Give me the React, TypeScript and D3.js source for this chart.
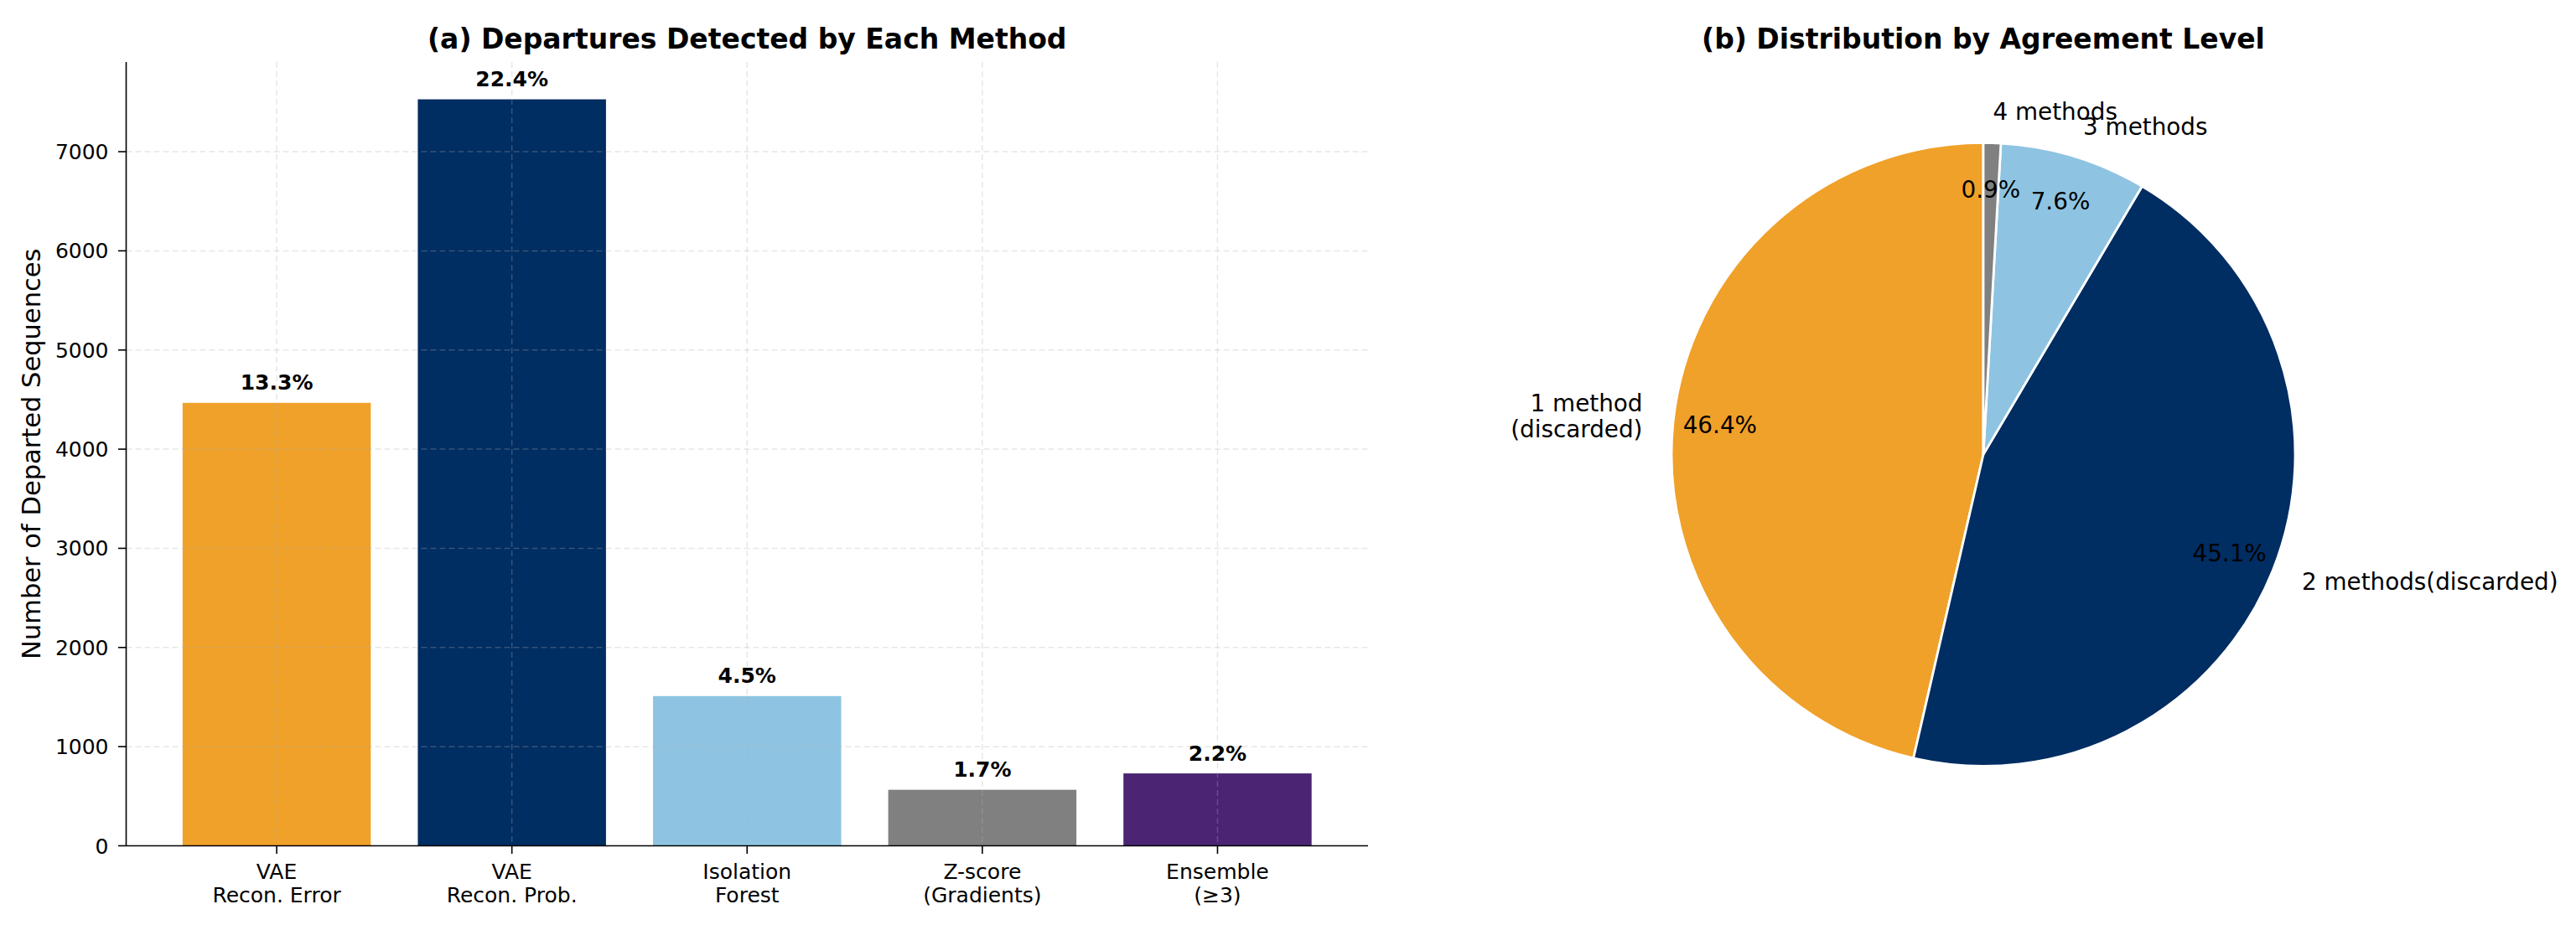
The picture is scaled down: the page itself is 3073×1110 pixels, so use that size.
import { useRef, useEffect } from 'react'
import * as d3 from 'd3'

const FONT = "'DejaVu Sans', sans-serif"

// (a) detections per method
const methods = ['VAE\nRecon. Error', 'VAE\nRecon. Prob.', 'Isolation\nForest', 'Z-score\n(Gradients)', 'Ensemble\n(≥3)']
const detectedCounts = [4467, 7528, 1510, 565, 730]
const detectedPct = ['13.3%', '22.4%', '4.5%', '1.7%', '2.2%']
const barColors = ['#F0A129', '#002D62', '#8EC4E2', '#808080', '#4B2473']
const yTicks = [0, 1000, 2000, 3000, 4000, 5000, 6000, 7000]

// (b) agreement levels
const agreementLabels = ['1 method\n(discarded)', '2 methods(discarded)', '3 methods', '4 methods']
const agreementCounts = [3985, 3873, 653, 77]
const pieColors = ['#F0A129', '#002D62', '#8EC4E2', '#808080']

export default function App() {
  const svgRef = useRef<SVGSVGElement>(null)

  useEffect(() => {
    const svg = d3.select(svgRef.current)
    svg.selectAll('*').remove()
    const W = 3073
    const H = 1110

    // ---------- panel (a) ----------
    const left = 150.5
    const right = 1632
    const top = 74
    const bottom = 1009.5
    const x = d3.scaleLinear().domain([-0.64, 4.64]).range([left, right])
    const y = d3.scaleLinear().domain([0, d3.max(detectedCounts)! * 1.05]).range([bottom, top])
    const ga = svg.append('g')

    methods.forEach((m, i) => {
      ga.append('rect')
        .attr('x', x(i - 0.4))
        .attr('width', x(i + 0.4) - x(i - 0.4))
        .attr('y', y(detectedCounts[i]))
        .attr('height', bottom - y(detectedCounts[i]))
        .attr('fill', barColors[i])
    })

    // grid on top of bars, like the reference
    const gridStyle = (sel: any) =>
      sel.attr('stroke', '#b0b0b0').attr('stroke-opacity', 0.3)
        .attr('stroke-width', 1.5).attr('stroke-dasharray', '7,4')
    yTicks.forEach((t) => {
      if (t === 0) return
      ga.append('line').attr('x1', left).attr('x2', right)
        .attr('y1', y(t)).attr('y2', y(t)).call(gridStyle)
    })
    methods.forEach((m, i) => {
      ga.append('line').attr('x1', x(i)).attr('x2', x(i))
        .attr('y1', top).attr('y2', bottom).call(gridStyle)
    })

    // value labels
    methods.forEach((m, i) => {
      ga.append('text')
        .attr('x', x(i)).attr('y', y(detectedCounts[i]) - 15.5)
        .attr('text-anchor', 'middle')
        .attr('font-family', FONT).attr('font-size', 25).attr('font-weight', 'bold')
        .text(detectedPct[i])
    })

    // y axis
    yTicks.forEach((t) => {
      ga.append('line').attr('x1', left - 9.5).attr('x2', left)
        .attr('y1', y(t)).attr('y2', y(t)).attr('stroke', '#000').attr('stroke-width', 1.6)
      ga.append('text')
        .attr('x', left - 21).attr('y', y(t)).attr('dy', '0.36em')
        .attr('text-anchor', 'end')
        .attr('font-family', FONT).attr('font-size', 25)
        .text(t)
    })

    // x axis
    methods.forEach((m, i) => {
      ga.append('line').attr('x1', x(i)).attr('x2', x(i))
        .attr('y1', bottom).attr('y2', bottom + 9.5).attr('stroke', '#000').attr('stroke-width', 1.6)
      m.split('\n').forEach((line, j) => {
        ga.append('text')
          .attr('x', x(i)).attr('y', 1049.3 + j * 27.5)
          .attr('text-anchor', 'middle')
          .attr('font-family', FONT).attr('font-size', 25)
          .text(line)
      })
    })

    ga.append('line').attr('x1', left).attr('x2', left).attr('y1', top).attr('y2', bottom)
      .attr('stroke', '#000').attr('stroke-width', 1.6)
    ga.append('line').attr('x1', left).attr('x2', right).attr('y1', bottom).attr('y2', bottom)
      .attr('stroke', '#000').attr('stroke-width', 1.6)

    ga.append('text')
      .attr('transform', `translate(37,${(top + bottom) / 2}) rotate(-90)`)
      .attr('dy', '0.36em')
      .attr('text-anchor', 'middle')
      .attr('font-family', FONT).attr('font-size', 30.5)
      .text('Number of Departed Sequences')

    ga.append('text')
      .attr('x', (left + right) / 2).attr('y', 58)
      .attr('text-anchor', 'middle')
      .attr('font-family', FONT).attr('font-size', 33).attr('font-weight', 'bold')
      .text('(a) Departures Detected by Each Method')

    // ---------- panel (b) ----------
    const cx = 2366
    const cy = 542.4
    const r = 372
    const total = d3.sum(agreementCounts)
    // counter-clockwise from 12 o'clock
    const pie = d3.pie<number>().sort(null).startAngle(0).endAngle(-2 * Math.PI)
    const arcs = pie(agreementCounts)
    const arc = d3.arc<any>().innerRadius(0).outerRadius(r)
    const gb = svg.append('g').attr('transform', `translate(${cx},${cy})`)

    gb.selectAll('path.slice')
      .data(arcs)
      .join('path')
      .attr('class', 'slice')
      .attr('d', arc)
      .attr('fill', (d, i) => pieColors[i])
      .attr('stroke', '#fff')
      .attr('stroke-width', 2.8)
      .attr('stroke-linejoin', 'round')

    const fmt = d3.format('.1f')
    arcs.forEach((a, i) => {
      const mid = (a.startAngle + a.endAngle) / 2
      const sx = Math.sin(mid)
      const sy = -Math.cos(mid)

      const pr = 0.85 * r
      gb.append('text')
        .attr('x', sx * pr).attr('y', sy * pr).attr('dy', '0.36em')
        .attr('text-anchor', 'middle')
        .attr('font-family', FONT).attr('font-size', 27.8)
        .text(`${fmt((agreementCounts[i] / total) * 100)}%`)

      const lr = 1.1 * r
      const lines = agreementLabels[i].split('\n')
      const lh = 31
      lines.forEach((line, j) => {
        gb.append('text')
          .attr('x', sx * lr)
          .attr('y', sy * lr + (j - (lines.length - 1) / 2) * lh)
          .attr('dy', '0.36em')
          .attr('text-anchor', sx < 0 ? 'end' : 'start')
          .attr('font-family', FONT).attr('font-size', 27.8)
          .text(line)
      })
    })

    svg.append('text')
      .attr('x', cx).attr('y', 58)
      .attr('text-anchor', 'middle')
      .attr('font-family', FONT).attr('font-size', 33).attr('font-weight', 'bold')
      .text('(b) Distribution by Agreement Level')

    svg.attr('width', W).attr('height', H)
  }, [])

  return (
    <svg
      ref={svgRef}
      width={3073}
      height={1110}
      style={{ position: 'absolute', left: 0, top: 0, background: '#fff' }}
    />
  )
}
